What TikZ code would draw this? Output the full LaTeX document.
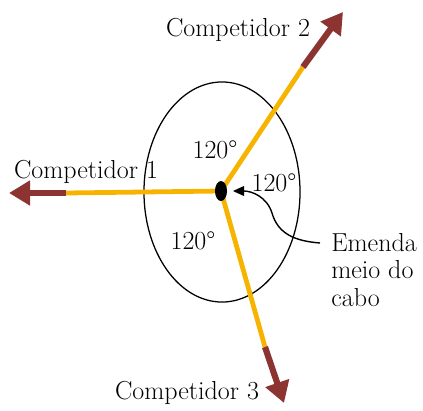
\documentclass[tikz,border=0pt]{standalone}
\usepackage{fontspec}
\usetikzlibrary{arrows.meta,shapes.geometric}

\definecolor{ropeyellow}{HTML}{F6B400}
\definecolor{pullred}{HTML}{8C3432}

\begin{document}
\begin{tikzpicture}[x=0.025cm, y=-0.025cm,
  ropeline/.style={ropeyellow, line width=3.4pt},
  pullarrow/.style={pullred, line width=4.4pt, -{Triangle[length=15pt,width=17pt]}},
  lbl/.style={font=\fontsize{18.5}{19.5}\selectfont, inner sep=0pt}]
  \useasboundingbox (0,0) rectangle (423,410);
  \draw[line width=0.9pt] (222,192) ellipse [x radius=1.95cm, y radius=2.75cm];
  \coordinate (mid) at (221,191);
  \coordinate (end1) at (66,193);
  \coordinate (end2) at (303,67);
  \coordinate (end3) at (265,347);
  \coordinate (tip1) at (9,193);
  \coordinate (tip2) at (343,12);
  \coordinate (tip3) at (284,403);
  \draw[ropeline] (mid) -- (end1);
  \draw[ropeline] (mid) -- (end2);
  \draw[ropeline] (mid) -- (end3);
  \draw[pullarrow] (end1) -- (tip1);
  \draw[pullarrow] (end2) -- (tip2);
  \draw[pullarrow] (end3) -- (tip3);
  \node (knot) [ellipse, fill=black, inner sep=0pt, minimum width=0.3cm, minimum height=0.5cm] at (mid) {};
  \node (comp1) [lbl] at (86,172) {Competidor 1};
  \node (comp2) [lbl] at (238,30) {Competidor 2};
  \node (comp3) [lbl] at (187,393) {Competidor 3};
  \node (ang1) [lbl] at (215,150) {120°};
  \node (ang2) [lbl] at (274,183) {120°};
  \node (ang3) [lbl] at (193,241) {120°};
  \node (emenda) [lbl, anchor=west, align=left] at (331,270) {Emenda\\meio do\\cabo};
  \coordinate (curvestart) at (320,243);
  \draw[line width=1pt, -{Triangle[length=8pt,width=7pt]}, shorten >=4pt]
    (curvestart) .. controls (295,241) and (278,234) .. (272,213)
    .. controls (267,197) and (252,191) .. (knot.east);
\end{tikzpicture}
\end{document}
